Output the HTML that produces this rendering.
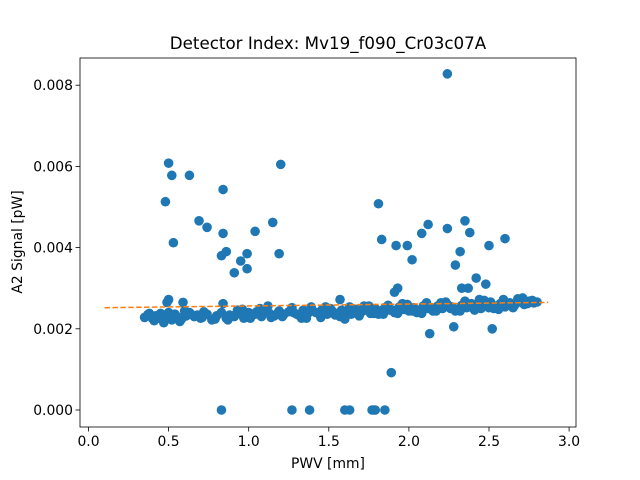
<!DOCTYPE html>
<html><head><meta charset="utf-8"><style>
html,body{margin:0;padding:0;background:#fff;}
svg{display:block;font-family:"DejaVu Sans","Liberation Sans",sans-serif;}
</style></head><body>
<svg id="chart" width="640" height="480">
<rect x="0" y="0" width="640" height="480" fill="#fff"/>
<g id="marks"></g>
<rect x="80" y="58" width="496" height="369" fill="none" stroke="#000" stroke-width="0.8"/>
<g id="axes"></g>
<text x="328" y="49" text-anchor="middle" font-size="16.7">Detector Index: Mv19_f090_Cr03c07A</text>
<text x="328" y="468" text-anchor="middle" font-size="13.9">PWV [mm]</text>
<text x="22" y="242" text-anchor="middle" font-size="13.9" transform="rotate(-90 22 242)">A2 Signal [pW]</text>
</svg>
<script>
const xTicks=[0,0.5,1,1.5,2,2.5,3];
const xTickLabels=["0.0","0.5","1.0","1.5","2.0","2.5","3.0"];
const yTicks=[0,0.002,0.004,0.006,0.008];
const yTickLabels=["0.000","0.002","0.004","0.006","0.008"];
const outlierX=[0.50,0.52,0.63,0.48,0.53,0.69,0.74,0.84,0.84,0.83,0.86,0.91,0.95,0.99,0.99,1.04,1.20,1.15,1.19,1.81,1.83,1.92,1.99,2.02,2.08,2.12,2.24,2.24,2.29,2.32,2.35,2.38,2.42,2.50,2.60,2.33,2.37,2.48,1.89,2.13,2.28,2.52,1.93,1.91,0.5,0.49,0.59,0.84,1.57];
const outlierY=[0.00608,0.00578,0.00578,0.00513,0.00412,0.00466,0.0045,0.00543,0.00435,0.0038,0.0039,0.00338,0.00367,0.00385,0.00348,0.0044,0.00605,0.00462,0.00385,0.00508,0.0042,0.00405,0.00405,0.0037,0.00435,0.00457,0.00828,0.00447,0.00357,0.0039,0.00466,0.00437,0.00325,0.00405,0.00422,0.003,0.003,0.0031,0.00092,0.00188,0.00205,0.002,0.003,0.0029,0.00272,0.00265,0.00265,0.00262,0.00272];
const zeroX=[0.83,1.27,1.38,1.60,1.63,1.77,1.78,1.79,1.85];
const bandX=[0.35,0.37,0.40,0.42,0.45,0.47,0.49,0.52,0.54,0.56,0.58,0.61,0.63,0.66,0.68,0.71,0.74,0.77,0.80,0.83,0.86,0.88,0.91,0.94,0.97,1.00,1.02,1.05,1.08,1.10,1.13,1.16,1.19,1.22,1.25,1.28,1.31,1.34,1.37,1.40,1.43,1.46,1.49,1.52,1.55,1.58,1.61,1.64,1.67,1.70,1.73,1.76,1.79,1.82,1.85,1.88,1.91,1.94,1.97,2.00,2.03,2.06,2.09,2.12,2.15,2.18,2.21,2.24,2.27,2.30,2.33,2.36,2.39,2.42,2.45,2.48,2.51,2.54,2.57,2.60,2.63,2.66,2.69,2.72,2.75,2.78,2.80,
0.38,0.44,0.50,0.57,0.64,0.72,0.79,0.87,0.93,1.01,1.07,1.14,1.21,1.27,1.33,1.39,1.45,1.51,1.57,1.63,1.69,1.75,1.81,1.87,1.93,1.99,2.05,2.11,2.17,2.23,2.29,2.35,2.41,2.47,2.53,2.59,2.65,2.71,2.77,
0.41,0.55,0.70,0.90,1.04,1.18,1.30,1.42,1.54,1.66,1.78,1.90,2.02,2.14,2.26,2.38,2.50,2.62,2.74,
0.60,0.96,1.12,1.36,1.48,1.60,1.72,1.84,1.96,2.08,2.20,2.32,2.44,2.56,2.68];
const bandY=[0.00228,0.00235,0.00225,0.00232,0.00238,0.00215,0.00230,0.00222,0.00236,0.00228,0.00224,0.00232,0.00240,0.00230,0.00234,0.00228,0.00236,0.00222,0.00232,0.00240,0.00226,0.00234,0.00230,0.00238,0.00226,0.00240,0.00234,0.00242,0.00230,0.00246,0.00238,0.00232,0.00244,0.00236,0.00242,0.00240,0.00234,0.00246,0.00238,0.00244,0.00240,0.00248,0.00236,0.00244,0.00238,0.00246,0.00242,0.00236,0.00248,0.00240,0.00246,0.00238,0.00250,0.00244,0.00252,0.00246,0.00240,0.00254,0.00248,0.00244,0.00252,0.00246,0.00256,0.00250,0.00244,0.00256,0.00250,0.00260,0.00254,0.00248,0.00258,0.00252,0.00262,0.00256,0.00250,0.00260,0.00266,0.00256,0.00262,0.00254,0.00264,0.00258,0.00266,0.00260,0.00268,0.00264,0.00266,
0.00238,0.00226,0.00240,0.00218,0.00236,0.00242,0.00224,0.00222,0.00246,0.00226,0.00250,0.00228,0.00230,0.00252,0.00226,0.00254,0.00228,0.00250,0.00230,0.00254,0.00232,0.00256,0.00236,0.00258,0.00238,0.00260,0.00240,0.00264,0.00244,0.00266,0.00244,0.00268,0.00246,0.00270,0.00250,0.00272,0.00252,0.00276,0.00270,
0.00220,0.00230,0.00226,0.00232,0.00236,0.00238,0.00236,0.00240,0.00234,0.00242,0.00238,0.00246,0.00244,0.00252,0.00250,0.00254,0.00252,0.00258,0.00262,
0.00244,0.00248,0.00256,0.00226,0.00254,0.00224,0.00256,0.00236,0.00262,0.00238,0.00264,0.00244,0.00272,0.00248,0.00274];
const fitX=[0.1,2.87];
const fitY=[0.00252,0.00265];
const NS="http://www.w3.org/2000/svg";
function sx(v){return 88.5+v*160.2;}
function sy(v){return 410-v*40600;}
const marks=document.getElementById('marks');
const axes=document.getElementById('axes');
function mk(tag,attrs,parent){const e=document.createElementNS(NS,tag);for(const k in attrs)e.setAttribute(k,attrs[k]);parent.appendChild(e);return e;}
function dot(x,y,name){const c=mk('circle',{cx:sx(x),cy:sy(y),r:4.8,fill:'#1f77b4'},marks);

}
bandX.forEach((x,i)=>dot(x,bandY[i],'band-point'));
outlierX.forEach((x,i)=>dot(x,outlierY[i],'outlier-point'));
zeroX.forEach(x=>dot(x,0,'zero-point'));
const fl=mk('line',{x1:sx(fitX[0]),y1:sy(fitY[0]),x2:sx(fitX[1]),y2:sy(fitY[1]),stroke:'#ff7f0e','stroke-width':1.5,'stroke-dasharray':'5.5,2.4'},marks);


xTicks.forEach((v,i)=>{const x=sx(v);
mk('line',{x1:x,y1:427,x2:x,y2:431.5,stroke:'#000','stroke-width':0.8},axes);
const t=mk('text',{x:x,y:446,'text-anchor':'middle','font-size':13.9},axes);t.textContent=xTickLabels[i];

});
yTicks.forEach((v,i)=>{const y=sy(v);
mk('line',{x1:75.5,y1:y,x2:80,y2:y,stroke:'#000','stroke-width':0.8},axes);
const t=mk('text',{x:73,y:y+5,'text-anchor':'end','font-size':13.9},axes);t.textContent=yTickLabels[i];

});
</script>
</body></html>
